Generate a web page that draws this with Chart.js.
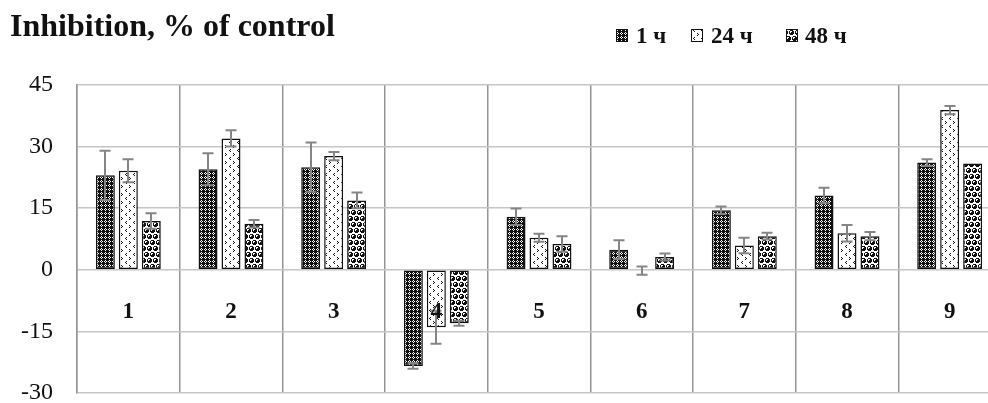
<!DOCTYPE html>
<html>
<head>
<meta charset="utf-8">
<script src="https://cdn.jsdelivr.net/npm/chart.js@4/dist/chart.umd.min.js"></script>
<style>
  html, body { margin: 0; padding: 0; background: #fff; overflow: hidden; }
  #wrap { position: absolute; left: 0; top: 0; width: 1004px; height: 403px; }
</style>
</head>
<body>
<div id="wrap"><canvas id="c" width="1004" height="403"></canvas></div>
<script>
// Samples 1–9, inhibition after 1, 24 and 48 hours (% of control), with error margins
const categories = ['1', '2', '3', '4', '5', '6', '7', '8', '9'];
const seriesNames = ['1 ч', '24 ч', '48 ч'];
const values1h  = [23.0, 24.5, 25.0, -23.4, 12.9, 4.9, 14.5, 18.1, 26.1];
const values24h = [24.1, 32.0, 27.7, -14.0, 7.8, -0.2, 5.9, 8.9, 38.9];
const values48h = [11.9, 11.2, 16.9, -13.0, 6.3, 3.1, 8.2, 8.2, 25.9];
const errors1h  = [6.0, 3.9, 6.0, 0.7, 2.0, 2.3, 0.9, 1.9, 0.8];
const errors24h = [2.8, 2.0, 1.0, 4.0, 1.0, 1.0, 1.9, 2.0, 1.0];
const errors48h = [1.9, 0.9, 1.9, 0.6, 1.9, 0.85, 0.8, 1.0, 0];
const yTicks = [-30, -15, 0, 15, 30, 45];
const titleText = 'Inhibition, % of control';

const canvas = document.getElementById('c');
const mainCtx = canvas.getContext('2d');

// Build a repeating fill from a small pixel mask ('#' = ink)
function maskPattern(rows, ink, paper) {
  const h = rows.length, w = rows[0].length;
  const t = document.createElement('canvas');
  t.width = w; t.height = h;
  const g = t.getContext('2d');
  g.fillStyle = paper; g.fillRect(0, 0, w, h);
  g.fillStyle = ink;
  for (let y = 0; y < h; y++) {
    for (let x = 0; x < w; x++) {
      if (rows[y][x] === '#') g.fillRect(x, y, 1, 1);
    }
  }
  return mainCtx.createPattern(t, 'repeat');
}

// lattice fill
const fillLattice = maskPattern([
  '#.##',
  '.#.#',
  '#.##',
  '####',
], '#111', '#fff');

// divot fill
const fillDivot = maskPattern([
  '........',
  '.#......',
  '..#.....',
  '.#......',
  '........',
  '......#.',
  '.....#..',
  '......#.',
], '#111', '#fff');

// sphere fill (staggered rows)
const fillSphere = maskPattern([
  '.###..',
  '#..##.',
  '#.###.',
  '#####.',
  '.###..',
  '......',
  '#...##',
  '##.#..',
  '##.#.#',
  '##.###',
  '#...##',
  '......',
], '#111', '#fff');

const fills = [fillLattice, fillDivot, fillSphere];

const errorBars = {
  id: 'errorBars',
  afterDatasetsDraw(chart) {
    const { ctx } = chart;
    const y = chart.scales.y;
    ctx.save();
    ctx.strokeStyle = '#858585';
    ctx.lineWidth = 2;
    chart.data.datasets.forEach((ds, di) => {
      const meta = chart.getDatasetMeta(di);
      meta.data.forEach((bar, i) => {
        const e = ds.errors[i];
        if (!e) return;
        const v = ds.data[i];
        const x = Math.round(bar.x);
        const yHi = y.getPixelForValue(v + e);
        const yLo = y.getPixelForValue(v - e);
        ctx.beginPath();
        ctx.moveTo(x, yHi); ctx.lineTo(x, yLo);
        ctx.moveTo(x - 5.5, yHi); ctx.lineTo(x + 5.5, yHi);
        ctx.moveTo(x - 5.5, yLo); ctx.lineTo(x + 5.5, yLo);
        ctx.stroke();
      });
    });
    ctx.restore();
  }
};

const categoryLabels = {
  id: 'categoryLabels',
  afterDatasetsDraw(chart) {
    const { ctx } = chart;
    const x = chart.scales.x, y = chart.scales.y;
    const base = y.getPixelForValue(0);
    ctx.save();
    ctx.fillStyle = '#111';
    ctx.font = 'bold 23px "Liberation Serif"';
    ctx.textAlign = 'center';
    ctx.textBaseline = 'alphabetic';
    categories.forEach((c, i) => {
      ctx.fillText(c, x.getPixelForValue(i), base + 48);
    });
    ctx.restore();
  }
};

const headerBlock = {
  id: 'headerBlock',
  afterDraw(chart) {
    const { ctx } = chart;
    ctx.save();
    ctx.fillStyle = '#111';
    ctx.textBaseline = 'alphabetic';
    ctx.textAlign = 'left';
    ctx.font = 'bold 32px "Liberation Serif"';
    ctx.fillText(titleText, 10, 36);

    ctx.font = 'bold 23px "Liberation Serif"';
    const boxX = [616, 691, 786];
    const textX = [636, 711, 805];
    chart.data.datasets.forEach((ds, i) => {
      ctx.fillStyle = ds.backgroundColor;
      ctx.fillRect(boxX[i], 29, 11, 12);
      ctx.strokeStyle = '#111';
      ctx.lineWidth = 1;
      ctx.strokeRect(boxX[i] + 0.5, 29.5, 11, 12);
      ctx.fillStyle = '#111';
      ctx.fillText(ds.label, textX[i], 43);
    });
    ctx.restore();
  }
};

const seriesValues = [values1h, values24h, values48h];
const seriesErrors = [errors1h, errors24h, errors48h];

new Chart(canvas, {
  type: 'bar',
  data: {
    labels: categories,
    datasets: seriesNames.map((name, i) => ({
      label: name,
      data: seriesValues[i],
      errors: seriesErrors[i],
      backgroundColor: fills[i],
      borderColor: '#111',
      borderWidth: 1.5,
      borderSkipped: false,
      categoryPercentage: 0.671,
      barPercentage: 0.826
    }))
  },
  options: {
    responsive: false,
    animation: false,
    devicePixelRatio: 1,
    layout: { padding: { top: 85, left: 0, right: 3, bottom: 10 } },
    plugins: {
      legend: { display: false },
      title: { display: false },
      tooltip: { enabled: false }
    },
    scales: {
      x: {
        grid: { offset: true, color: '#959595', lineWidth: 1.5, drawTicks: false },
        border: { display: false },
        ticks: { display: false },
        afterFit: (s) => { s.height = 0; }
      },
      y: {
        min: -30,
        max: 45,
        afterBuildTicks: (s) => { s.ticks = yTicks.map(v => ({ value: v })); },
        afterFit: (s) => { s.width = 77; s.paddingTop = 0; s.paddingBottom = 0; },
        grid: { color: '#c6c6c6', lineWidth: 1.5, drawTicks: false },
        border: { display: true, color: '#959595', width: 1.5 },
        ticks: {
          padding: 24,
          color: '#111',
          font: { family: '"Liberation Serif"', size: 24, lineHeight: 0.8 }
        }
      }
    }
  },
  plugins: [errorBars, categoryLabels, headerBlock]
});
</script>
</body>
</html>
